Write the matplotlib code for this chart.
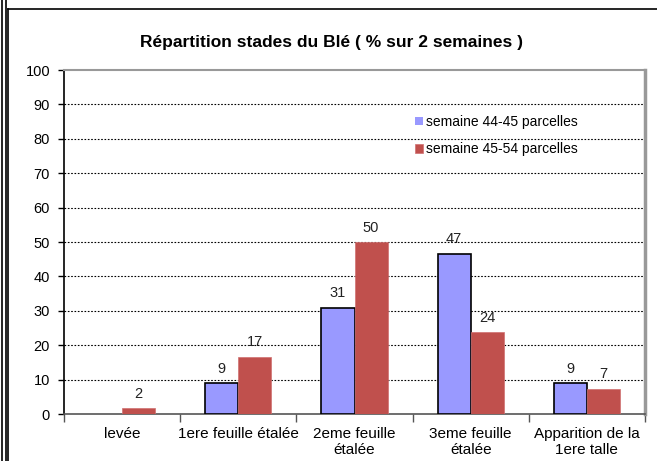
import matplotlib
matplotlib.use("Agg")
import matplotlib.pyplot as plt
from matplotlib.lines import Line2D
import numpy as np

plt.rcParams['font.family'] = ['Liberation Sans', 'DejaVu Sans']

categories = ["levée", "1ere feuille étalée", "2eme feuille\nétalée",
              "3eme feuille\nétalée", "Apparition de la\n1ere talle"]
series_names = ["semaine 44-45 parcelles", "semaine 45-54 parcelles"]
sem_44_45 = [0, 8.9, 30.9, 46.6, 8.9]
sem_45_54 = [1.7, 16.6, 49.9, 23.8, 7.3]
yticks = [0, 10, 20, 30, 40, 50, 60, 70, 80, 90, 100]
title = "Répartition stades du Blé ( % sur 2 semaines )"

W, H = 657, 461
fig = plt.figure(figsize=(W / 100, H / 100), dpi=100)

# outer frame lines
fig.add_artist(Line2D([1.5 / W, 1.5 / W], [0, 1], color='black', lw=1.2))
fig.add_artist(Line2D([6 / W, 6 / W], [0, 1], color='black', lw=1.2))
fig.add_artist(Line2D([8 / W, 8 / W], [0, 1 - 9 / H], color='black', lw=1.2))
fig.add_artist(Line2D([8 / W, 1], [1 - 9 / H, 1 - 9 / H], color='black', lw=1.2))

ax = fig.add_axes([64 / W, 1 - 414 / H, (645 - 64) / W, (414 - 70) / H])

x = np.arange(len(categories))
bw = 0.285
lw1 = [1.2 if v > 0 else 0 for v in sem_44_45]
ax.bar(x - bw / 2, sem_44_45, bw, color='#9999FF', edgecolor='black', linewidth=lw1,
       label=series_names[0], zorder=3)
ax.bar(x + bw / 2, sem_45_54, bw, color='#C0504D', edgecolor='#D07070', lw=0.5,
       label=series_names[1], zorder=3)

for xi, v in zip(x, sem_44_45):
    if v > 0:
        ax.text(xi - bw / 2, v + 2.2, f"{v:.0f}", ha='center', va='bottom', fontsize=10.5, color='#222222')
for xi, v in zip(x, sem_45_54):
    if v > 0:
        ax.text(xi + bw / 2, v + 2.2, f"{v:.0f}", ha='center', va='bottom', fontsize=10.5, color='#222222')

ax.set_xlim(-0.5, len(categories) - 0.5)
ax.set_ylim(0, 100)
ax.set_yticks(yticks)
ax.set_yticklabels([str(t) for t in yticks], fontsize=10.5)
ax.set_xticks(x)
ax.set_xticklabels(categories, fontsize=11, linespacing=1.25)
ax.tick_params(axis='x', length=0, pad=9)
ax.tick_params(axis='y', length=4, width=1, direction='out', pad=6, color='black')
# category boundary ticks
ax.set_xticks(np.arange(len(categories) + 1) - 0.5, minor=True)
ax.tick_params(axis='x', which='minor', length=6, width=1, color='#555555')

for t in yticks[1:-1]:
    ax.axhline(t, color='black', lw=0.8, ls=(0, (1.5, 1.5)), zorder=1)

ax.spines['left'].set_color('black')
ax.spines['left'].set_linewidth(1.2)
ax.spines['bottom'].set_color('#555555')
ax.spines['bottom'].set_linewidth(1.2)
ax.spines['top'].set_color('#999999')
ax.spines['top'].set_linewidth(1.5)
ax.spines['right'].set_color('#999999')
ax.spines['right'].set_linewidth(2.5)

fig.text(332 / W, 1 - 42 / H, title, ha='center', va='center',
         fontsize=12.5, fontweight='bold')

leg = ax.legend(loc='upper left', bbox_to_anchor=(0.595, 0.885), frameon=False, fontsize=10,
                handlelength=0.55, handleheight=0.55, handletextpad=0.2, labelspacing=0.95,
                borderaxespad=0)

fig.savefig("out.png", dpi=100)
